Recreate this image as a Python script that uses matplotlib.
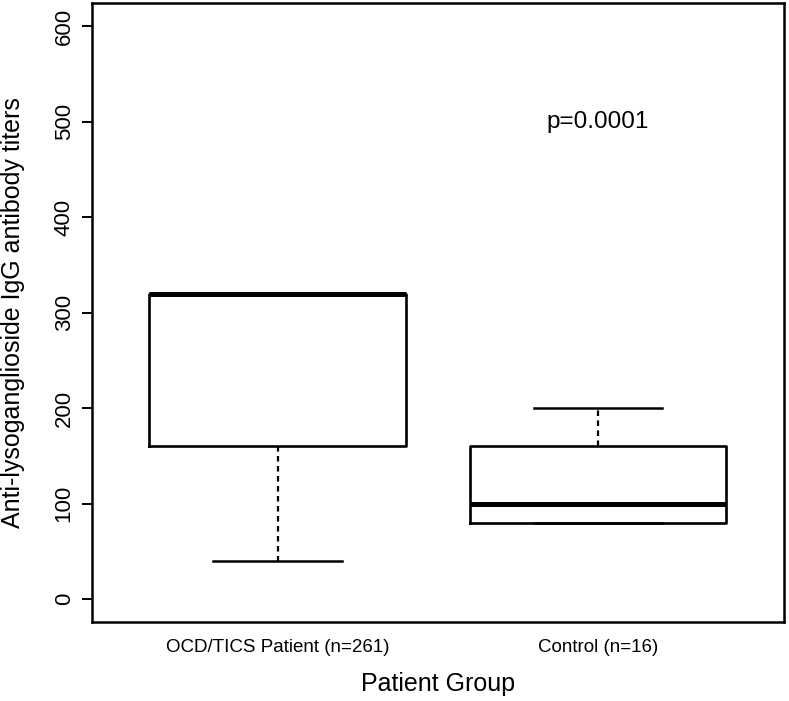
import matplotlib
matplotlib.use("Agg")
import matplotlib.pyplot as plt

# data
groups = ["OCD/TICS Patient (n=261)", "Control (n=16)"]
q1 = [160, 80]
median = [320, 100]
q3 = [320, 160]
whis_lo = [40, 80]
whis_hi = [320, 200]
y_ticks = [0, 100, 200, 300, 400, 500, 600]
p_text = "p=0.0001"

plt.rcParams['font.family'] = ['Liberation Sans', 'DejaVu Sans']

fig = plt.figure(figsize=(7.89, 7.01), dpi=100)
ax = fig.add_axes([0.1162, 0.1127, 0.8775, 0.8826])

stats = []
for i in range(len(groups)):
    stats.append({'med': median[i], 'q1': q1[i], 'q3': q3[i],
                  'whislo': whis_lo[i], 'whishi': whis_hi[i], 'label': groups[i]})

ax.bxp(stats, positions=[1, 2], widths=0.8, showfliers=False,
       boxprops=dict(color='black', linewidth=1.9),
       medianprops=dict(color='black', linewidth=3.6, solid_capstyle='butt'),
       whiskerprops=dict(color='black', linewidth=1.6, linestyle=(0, (2.5, 2))),
       capprops=dict(color='black', linewidth=1.8),
       capwidths=0.4)

ax.set_xlim(0.42, 2.58)
ax.set_ylim(-24, 624)
ax.set_yticks(y_ticks)
ax.set_yticklabels([str(v) for v in y_ticks], rotation=90, va='center', fontsize=16)
ax.set_xticks([1, 2])
ax.set_xticklabels(groups, fontsize=13.5)
ax.tick_params(axis='x', length=0, pad=12)
ax.tick_params(axis='y', length=7.2, width=1.4, pad=5)

for s in ax.spines.values():
    s.set_linewidth(1.8)

ax.set_xlabel("Patient Group", fontsize=18, va='center')
ax.xaxis.set_label_coords(0.5, -0.1)
ax.set_ylabel("Anti-lysoganglioside IgG antibody titers", fontsize=18, va='center')
ax.yaxis.set_label_coords(-0.1137, 0.5)

ax.text(2, 500, p_text, ha='center', va='center', fontsize=17.5)

fig.savefig("out.png", dpi=100)
